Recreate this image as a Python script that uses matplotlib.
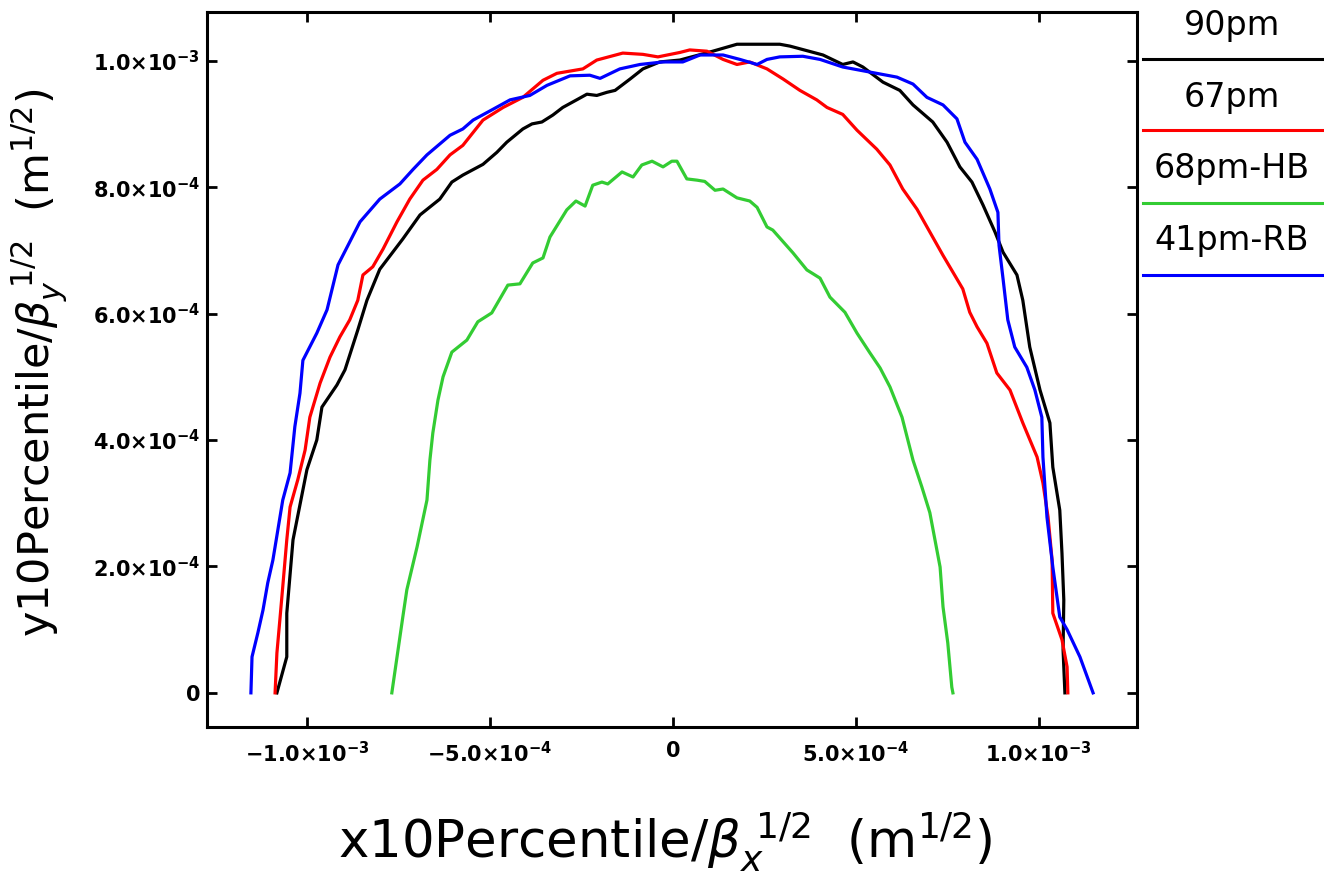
import numpy as np
import matplotlib
matplotlib.use("Agg")
import matplotlib.pyplot as plt
from matplotlib.lines import Line2D
from matplotlib.ticker import FixedLocator, FuncFormatter

plt.rcParams["mathtext.fontset"] = "dejavusans"

# values in units of 1e-4 (m^1/2)
x_90pm = [-10.82, -10.55, -10.55, -10.38, -10.00, -9.73, -9.59, -9.18, -8.96, -8.61, -8.36, -8.01, -7.38, -6.91,
          -6.37, -6.04, -5.74, -5.19, -4.81, -4.54, -4.10, -3.85, -3.58, -3.28, -3.01, -2.60, -2.35, -2.08, -1.80,
          -1.58, -1.17, -0.82, -0.36, 0.19, 1.09, 1.75, 2.92, 3.20, 4.10, 4.64, 4.92, 5.19, 5.74, 6.20, 6.56, 7.10,
          7.49, 7.84, 8.17, 8.47, 8.80, 9.02, 9.40, 9.56, 9.75, 10.03, 10.30, 10.38, 10.57, 10.63, 10.68, 10.66, 10.71]
y_90pm = [0, 0.57, 1.26, 2.42, 3.53, 4.00, 4.52, 4.87, 5.11, 5.74, 6.21, 6.70, 7.18, 7.56,
          7.81, 8.08, 8.19, 8.36, 8.55, 8.71, 8.92, 9.00, 9.03, 9.14, 9.26, 9.39, 9.47, 9.45, 9.50,
          9.53, 9.71, 9.87, 9.98, 10.01, 10.15, 10.26, 10.26, 10.23, 10.09, 9.94, 9.98, 9.90, 9.66, 9.53, 9.30, 9.03,
          8.71, 8.32, 8.08, 7.72, 7.29, 6.97, 6.61, 6.21, 5.47, 4.79, 4.27, 3.57, 2.89, 2.21, 1.47, 0.68, 0]

x_67pm = [-10.87, -10.82, -10.74, -10.66, -10.55, -10.46, -10.25, -10.05, -9.92, -9.64, -9.37, -9.10, -8.83, -8.61,
          -8.47, -8.20, -7.92, -7.54, -7.19, -6.83, -6.45, -6.09, -5.74, -5.19, -4.64, -4.10, -3.55, -3.17, -2.46,
          -2.08, -1.37, -0.82, -0.41, 0.19, 0.46, 0.93, 1.37, 1.75, 2.10, 2.57, 3.01, 3.47, 3.93, 4.21, 4.64, 5.03,
          5.57, 5.93, 6.28, 6.67, 7.02, 7.38, 7.92, 8.11, 8.31, 8.58, 8.85, 9.21, 9.56, 9.95, 10.11, 10.25, 10.36,
          10.38, 10.63, 10.77, 10.79]
y_67pm = [0, 0.63, 1.15, 1.68, 2.42, 2.94, 3.37, 3.84, 4.36, 4.90, 5.31, 5.63, 5.90, 6.21,
          6.61, 6.74, 7.02, 7.45, 7.81, 8.11, 8.28, 8.51, 8.66, 9.06, 9.26, 9.42, 9.69, 9.80, 9.87,
          10.01, 10.12, 10.10, 10.06, 10.13, 10.17, 10.15, 10.02, 9.94, 9.98, 9.87, 9.71, 9.53, 9.38, 9.26, 9.15, 8.90,
          8.60, 8.35, 7.97, 7.65, 7.29, 6.92, 6.39, 6.02, 5.79, 5.53, 5.06, 4.79, 4.27, 3.73, 3.32, 2.78, 2.10,
          1.26, 0.84, 0.41, 0]

x_68pm_hb = [-7.68, -7.38, -7.27, -6.99, -6.72, -6.64, -6.56, -6.42, -6.28, -6.04, -5.63, -5.33, -4.95, -4.51,
             -4.18, -3.83, -3.55, -3.36, -2.90, -2.65, -2.40, -2.19, -1.94, -1.78, -1.39, -1.09, -0.85, -0.57, -0.27,
             -0.03, 0.11, 0.38, 0.66, 0.87, 1.15, 1.37, 1.75, 2.10, 2.30, 2.57, 2.73, 3.28, 3.66, 4.02, 4.29, 4.70,
             5.03, 5.38, 5.66, 5.93, 6.26, 6.56, 6.80, 7.02, 7.16, 7.30, 7.38, 7.51, 7.62, 7.65]
y_68pm_hb = [0, 1.20, 1.63, 2.31, 3.05, 3.68, 4.11, 4.63, 5.00, 5.39, 5.58, 5.87, 6.01, 6.45,
             6.47, 6.80, 6.88, 7.21, 7.64, 7.78, 7.70, 8.03, 8.08, 8.05, 8.24, 8.16, 8.35, 8.41, 8.32,
             8.41, 8.41, 8.13, 8.11, 8.09, 7.95, 7.97, 7.83, 7.78, 7.68, 7.37, 7.32, 6.96, 6.69, 6.56, 6.26, 6.02,
             5.69, 5.38, 5.14, 4.84, 4.36, 3.68, 3.26, 2.85, 2.42, 1.99, 1.36, 0.79, 0.09, 0]

x_41pm_rb = [-11.53, -11.50, -11.34, -11.20, -11.07, -10.93, -10.87, -10.66, -10.46, -10.33, -10.19, -10.11, -9.73,
             -9.45, -9.15, -8.55, -8.01, -7.46, -7.10, -6.72, -6.09, -5.74, -5.46, -4.92, -4.45, -3.91, -3.44, -2.81,
             -2.27, -1.99, -1.45, -0.90, -0.27, 0.27, 0.74, 1.37, 1.83, 2.30, 2.57, 2.92, 3.55, 4.02, 4.64, 5.38,
             6.12, 6.56, 6.94, 7.38, 7.76, 7.98, 8.31, 8.66, 8.88, 8.91, 9.02, 9.15, 9.34, 9.67, 9.89, 10.08, 10.11,
             10.22, 10.38, 10.57, 10.77, 11.12, 11.48]
y_41pm_rb = [0, 0.57, 0.95, 1.31, 1.74, 2.10, 2.31, 3.05, 3.48, 4.21, 4.74, 5.26, 5.69,
             6.06, 6.77, 7.45, 7.81, 8.05, 8.28, 8.51, 8.82, 8.92, 9.06, 9.23, 9.38, 9.45, 9.61, 9.76,
             9.77, 9.72, 9.87, 9.94, 9.98, 9.98, 10.09, 10.09, 10.02, 9.94, 10.02, 10.06, 10.07, 10.02, 9.90, 9.82,
             9.74, 9.63, 9.42, 9.30, 9.08, 8.71, 8.44, 7.97, 7.60, 7.08, 6.55, 5.90, 5.47, 5.15, 4.79, 4.36, 3.73,
             2.78, 1.99, 1.20, 1.00, 0.57, 0]

series = [("90pm", x_90pm, y_90pm, "black"),
          ("67pm", x_67pm, y_67pm, "#ff0000"),
          ("68pm-HB", x_68pm_hb, y_68pm_hb, "#33cc33"),
          ("41pm-RB", x_41pm_rb, y_41pm_rb, "#0000ff")]

x_ticks = [-1e-3, -5e-4, 0, 5e-4, 1e-3]
x_tick_labels = [r"$\mathbf{-1.0{\times}10^{-3}}$", r"$\mathbf{-5.0{\times}10^{-4}}$", r"$\mathbf{0}$",
                 r"$\mathbf{5.0{\times}10^{-4}}$", r"$\mathbf{1.0{\times}10^{-3}}$"]
y_ticks = [0, 2e-4, 4e-4, 6e-4, 8e-4, 1e-3]
y_tick_labels = [r"$\mathbf{0}$", r"$\mathbf{2.0{\times}10^{-4}}$", r"$\mathbf{4.0{\times}10^{-4}}$",
                 r"$\mathbf{6.0{\times}10^{-4}}$", r"$\mathbf{8.0{\times}10^{-4}}$", r"$\mathbf{1.0{\times}10^{-3}}$"]

fig = plt.figure(figsize=(13.24, 8.74), dpi=100)
ax = fig.add_axes([207 / 1324, 1 - 727 / 874, 930 / 1324, 715 / 874])

for name, xs, ys, c in series:
    ax.plot(np.array(xs) * 1e-4, np.array(ys) * 1e-4, color=c, lw=2.3)

ax.set_xlim(-1.273e-3, 1.268e-3)
ax.set_ylim(-0.054e-3, 1.077e-3)

ax.xaxis.set_major_locator(FixedLocator(x_ticks))
ax.xaxis.set_major_formatter(FuncFormatter(lambda v, i: x_tick_labels[i] if i is not None and i < len(x_tick_labels) else ""))
ax.yaxis.set_major_locator(FixedLocator(y_ticks))
ax.yaxis.set_major_formatter(FuncFormatter(lambda v, i: y_tick_labels[i] if i is not None and i < len(y_tick_labels) else ""))
ax.tick_params(direction="in", length=7, width=2, top=True, right=True, pad=5, labelsize=15)
ax.tick_params(axis="x", pad=10)
for s in ax.spines.values():
    s.set_linewidth(2.2)

ax.set_xlabel(r"x10Percentile/$\beta_x^{\ 1/2}$  (m$^{1/2}$)", fontsize=37)
ax.set_ylabel(r"y10Percentile/$\beta_y^{\ 1/2}$  (m$^{1/2}$)", fontsize=31)
ax.xaxis.set_label_coords(0.4925, -0.115)
ax.yaxis.set_label_coords(-0.148, 0.51)

# legend outside on the right: label above a line
text_y = [35, 107, 178, 250]
line_y = [59, 130, 203, 275]
for (name, xs, ys, c), ty, ly in zip(series, text_y, line_y):
    fig.text(1232 / 1324, 1 - ty / 874, name, fontsize=24, ha="center", va="baseline")
    fig.add_artist(Line2D([1143 / 1324, 1.0], [1 - ly / 874, 1 - ly / 874], color=c, lw=2.2,
                          transform=fig.transFigure))

fig.savefig("out.png", dpi=100)
